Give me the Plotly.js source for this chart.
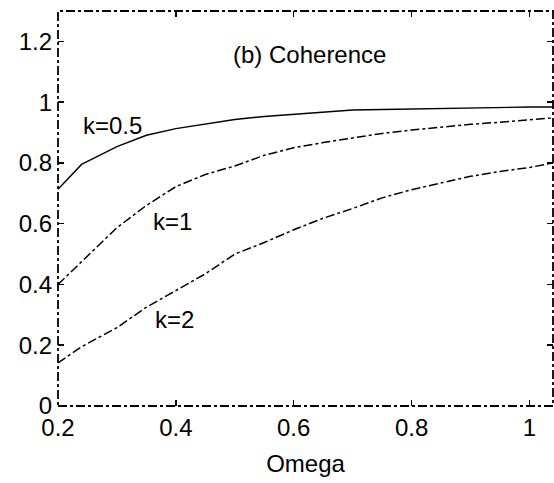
<!DOCTYPE html>
<html>
<head>
<meta charset="utf-8">
<script src="https://cdn.plot.ly/plotly-3.0.1.min.js"></script>
<style>html,body{margin:0;padding:0;background:#fff;}#chart{width:554px;height:483px;}</style>
</head>
<body>
<div id="chart"></div>
<script>
const omega = [0.2, 0.24, 0.3, 0.35, 0.4, 0.45, 0.5, 0.55, 0.6, 0.65, 0.7, 0.75, 0.8, 0.85, 0.9, 0.95, 1.0, 1.04];
const cohK05 = [0.713, 0.795, 0.854, 0.891, 0.913, 0.929, 0.943, 0.953, 0.960, 0.968, 0.974, 0.976, 0.978, 0.980, 0.982, 0.983, 0.984, 0.984];
const cohK1  = [0.400, 0.475, 0.587, 0.660, 0.722, 0.762, 0.790, 0.825, 0.850, 0.867, 0.882, 0.897, 0.908, 0.918, 0.927, 0.934, 0.941, 0.948];
const cohK2  = [0.142, 0.195, 0.258, 0.325, 0.380, 0.435, 0.500, 0.538, 0.580, 0.618, 0.650, 0.685, 0.712, 0.735, 0.756, 0.772, 0.785, 0.800];
const xTicks = [0.2, 0.4, 0.6, 0.8, 1];
const xTickText = ['0.2', '0.4', '0.6', '0.8', '1'];
const yTicks = [0, 0.2, 0.4, 0.6, 0.8, 1, 1.2];
const yTickText = ['0', '0.2', '0.4', '0.6', '0.8', '1', '1.2'];
const curveLabels = ['k=0.5', 'k=1', 'k=2'];
const labelX = [0.292, 0.395, 0.397];
const labelY = [0.924, 0.607, 0.284];

const FONT = 'Arial, "Liberation Sans", sans-serif';
const traces = [
  {x: omega, y: cohK05, mode: 'lines', line: {color: '#000', width: 1.4, dash: 'solid'}},
  {x: omega, y: cohK1, mode: 'lines', line: {color: '#000', width: 1.5, dash: 'dashdot'}},
  {x: omega, y: cohK2, mode: 'lines', line: {color: '#000', width: 1.5, dash: 'dashdot'}}
];
const annotations = curveLabels.map((t, i) => ({
  x: labelX[i], y: labelY[i], xref: 'x', yref: 'y', text: t, showarrow: false,
  font: {family: FONT, size: 24, color: '#000'}
}));
annotations.push({x: 0.627, y: 1.158, xref: 'x', yref: 'y', text: '(b) Coherence', showarrow: false,
  font: {family: FONT, size: 24, color: '#000'}});

const layout = {
  width: 554, height: 483,
  margin: {l: 58, r: 1, t: 11, b: 77},
  paper_bgcolor: '#fff', plot_bgcolor: '#fff',
  showlegend: false,
  font: {family: FONT, size: 24, color: '#000'},
  xaxis: {
    range: [0.2, 1.04], tickvals: xTicks, ticktext: xTickText,
    ticks: 'inside', ticklen: 6, tickwidth: 1.5, tickcolor: '#000', mirror: 'ticks',
    showline: false, showgrid: false, zeroline: false, ticklabelstandoff: 5,
    tickfont: {family: FONT, size: 24, color: '#000'},
    title: {text: 'Omega', font: {family: FONT, size: 24, color: '#000'}, standoff: 15}
  },
  yaxis: {
    range: [0, 1.3], tickvals: yTicks, ticktext: yTickText,
    ticks: 'inside', ticklen: 6, tickwidth: 1.5, tickcolor: '#000', mirror: 'ticks',
    showline: false, showgrid: false, zeroline: false, ticklabelstandoff: 5,
    tickfont: {family: FONT, size: 24, color: '#000'}
  },
  shapes: [{type: 'rect', xref: 'paper', yref: 'paper', x0: 0, x1: 1, y0: 0, y1: 1,
    line: {color: '#000', width: 1.8, dash: 'dashdot'}}],
  annotations: annotations
};
Plotly.newPlot('chart', traces, layout, {staticPlot: true, displayModeBar: false});
</script>
</body>
</html>
